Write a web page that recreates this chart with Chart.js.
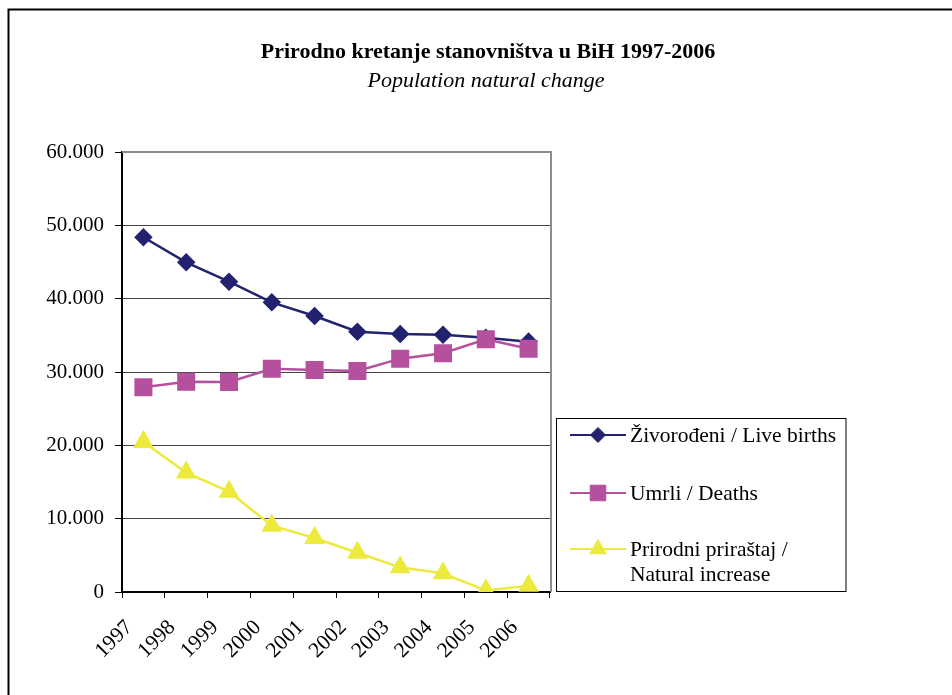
<!DOCTYPE html>
<html>
<head>
<meta charset="utf-8">
<script src="https://cdn.jsdelivr.net/npm/chart.js@4/dist/chart.umd.min.js"></script>
<style>
  html, body { margin: 0; padding: 0; background: #fff; }
  #wrap { position: relative; width: 952px; height: 695px; }
</style>
</head>
<body>
<div id="wrap"><canvas id="c" width="952" height="695"></canvas></div>
<script>
const years = ['1997','1998','1999','2000','2001','2002','2003','2004','2005','2006'];
const liveBirths = [48370, 44960, 42320, 39500, 37640, 35500, 35180, 35090, 34680, 34140];
const deaths = [27910, 28680, 28640, 30450, 30270, 30140, 31820, 32550, 34460, 33180];
const naturalIncrease = [20460, 16280, 13680, 9050, 7370, 5360, 3360, 2540, 220, 850];
const seriesNames = ['Živorođeni / Live births', 'Umrli / Deaths', ['Prirodni priraštaj /', 'Natural increase']];
const titleText = 'Prirodno kretanje stanovništva u BiH 1997-2006';
const subtitleText = 'Population natural change';
const yMin = 0, yMax = 60000, yStep = 10000;

const SERIF = '"Liberation Serif", "Times New Roman", serif';

function fmt(v) {
  if (v === 0) return '0';
  return String(v).replace(/\B(?=(\d{3})+(?!\d))/g, '.');
}

const framePlugin = {
  id: 'frame',
  beforeDraw(chart) {
    const ctx = chart.ctx;
    ctx.save();
    ctx.fillStyle = '#fff';
    ctx.fillRect(0, 0, chart.width, chart.height);
    ctx.strokeStyle = '#000';
    ctx.lineWidth = 2;
    ctx.beginPath();
    ctx.moveTo(8.5, chart.height + 5);
    ctx.lineTo(8.5, 9.5);
    ctx.lineTo(chart.width + 5, 9.5);
    ctx.stroke();
    // titles
    ctx.fillStyle = '#000';
    ctx.textAlign = 'center';
    ctx.textBaseline = 'middle';
    ctx.font = 'bold 22px ' + SERIF;
    ctx.fillText(titleText, 488, 52);
    ctx.font = 'italic 22px ' + SERIF;
    ctx.fillText(subtitleText, 486, 81);
    ctx.restore();
  },
  afterDraw(chart) {
    const ctx = chart.ctx;
    const a = chart.chartArea;
    ctx.save();
    // plot area top and right border (gray)
    ctx.strokeStyle = '#8c8c8c';
    ctx.lineWidth = 2;
    ctx.beginPath();
    ctx.moveTo(a.left, a.top);
    ctx.lineTo(a.right + 1, a.top);
    ctx.lineTo(a.right + 1, a.bottom);
    ctx.stroke();
    // legend box
    const bx = 556.5, by = 418.5, bw = 289.5, bh = 173;
    ctx.strokeStyle = '#000';
    ctx.lineWidth = 1;
    ctx.strokeRect(bx, by, bw, bh);
    const rows = [435, 493, 549];
    ctx.font = '21.5px ' + SERIF;
    ctx.textAlign = 'left';
    ctx.textBaseline = 'middle';
    chart.data.datasets.forEach((ds, i) => {
      const y = rows[i];
      ctx.strokeStyle = ds.borderColor;
      ctx.lineWidth = 2;
      ctx.beginPath();
      ctx.moveTo(570, y);
      ctx.lineTo(626, y);
      ctx.stroke();
      ctx.fillStyle = ds.pointBackgroundColor;
      ctx.strokeStyle = ds.pointBorderColor;
      ctx.lineWidth = 1;
      Chart.helpers.drawPoint(ctx, {
        pointStyle: ds.pointStyle,
        rotation: 0,
        borderWidth: 1,
        radius: ds.pointRadius
      }, 598, y);
      ctx.fillStyle = '#000';
      const lbl = seriesNames[i];
      if (Array.isArray(lbl)) {
        lbl.forEach((t, k) => ctx.fillText(t, 630, y + 1 + k * 25));
      } else {
        ctx.fillText(lbl, 630, y + 1);
      }
    });
    ctx.restore();
  }
};

const ctx = document.getElementById('c').getContext('2d');
new Chart(ctx, {
  type: 'line',
  data: {
    labels: years,
    datasets: [
      {
        label: 'Živorođeni / Live births',
        data: liveBirths,
        order: 3,
        borderColor: '#22226e',
        backgroundColor: '#22226e',
        pointBackgroundColor: '#22226e',
        pointBorderColor: '#22226e',
        pointStyle: 'rectRot',
        pointRadius: 7.5,
        borderWidth: 2.5,
        tension: 0
      },
      {
        label: 'Umrli / Deaths',
        data: deaths,
        order: 2,
        borderColor: '#b4509e',
        backgroundColor: '#b4509e',
        pointBackgroundColor: '#b4509e',
        pointBorderColor: '#b4509e',
        pointStyle: 'rect',
        pointRadius: 11,
        borderWidth: 2.5,
        tension: 0
      },
      {
        label: 'Prirodni priraštaj / Natural increase',
        data: naturalIncrease,
        order: 1,
        borderColor: '#ecea3c',
        backgroundColor: '#ecea3c',
        pointBackgroundColor: '#ecea3c',
        pointBorderColor: '#ecea3c',
        pointStyle: 'triangle',
        pointRadius: 9.5,
        borderWidth: 2.5,
        tension: 0
      }
    ]
  },
  options: {
    responsive: false,
    animation: false,
    devicePixelRatio: 1,
    layout: { padding: { top: 152, right: 402, left: 0, bottom: 0 } },
    plugins: {
      legend: { display: false },
      title: { display: false },
      tooltip: { enabled: false }
    },
    scales: {
      x: {
        type: 'category',
        offset: true,
        afterFit(scale) { scale.height = 103; },
        grid: {
          offset: true,
          drawOnChartArea: false,
          drawTicks: true,
          tickLength: 6,
          tickColor: '#000',
          tickWidth: 1
        },
        border: { display: true, color: '#000', width: 2 },
        ticks: {
          color: '#000',
          font: { family: SERIF, size: 21.5 },
          minRotation: 45,
          maxRotation: 45,
          padding: 17,
          labelOffset: -14,
          autoSkip: false
        }
      },
      y: {
        min: yMin,
        max: yMax,
        afterFit(scale) { scale.width = 122; },
        grid: {
          color: '#444',
          lineWidth: 1,
          drawTicks: true,
          tickLength: 7,
          tickColor: '#000'
        },
        border: { display: true, color: '#000', width: 2 },
        ticks: {
          stepSize: yStep,
          color: '#000',
          padding: 11,
          font: { family: SERIF, size: 21 },
          callback: (v) => fmt(v)
        }
      }
    }
  },
  plugins: [framePlugin]
});
</script>
</body>
</html>
